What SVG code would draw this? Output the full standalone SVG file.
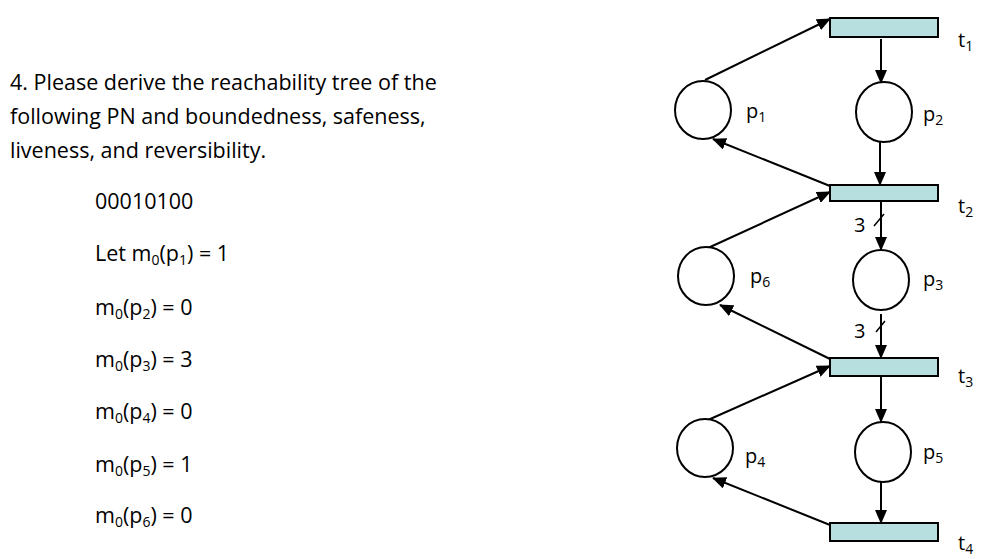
<svg xmlns="http://www.w3.org/2000/svg" width="996" height="559" viewBox="0 0 996 559">
<style>
text{font-family:"Open Sans","Liberation Sans",sans-serif;font-size:20px;fill:#000}
.q{font-size:21.5px}
.t{fill:#b8dfe0;stroke:#000;stroke-width:2}
.p{fill:#fff;stroke:#000;stroke-width:2}
.a{stroke:#000;stroke-width:2;fill:none;marker-end:url(#ah)}
</style>
<defs><marker id="ah" markerWidth="14" markerHeight="12" refX="13" refY="6" orient="auto" markerUnits="userSpaceOnUse"><path d="M0,0L14,6L0,12z" fill="#000"/></marker></defs>
<g id="question" class="q">
<text class="q" x="10" y="90">4. Please derive the reachability tree of the</text>
<text class="q" x="10" y="124">following PN and boundedness, safeness,</text>
<text class="q" x="10" y="158">liveness, and reversibility.</text>
<text class="q" x="95" y="209">00010100</text>
<text class="q" x="95" y="261">Let m<tspan font-size="14" dy="4">0</tspan><tspan dy="-4">(p</tspan><tspan font-size="14" dy="4">1</tspan><tspan dy="-4">) = 1</tspan></text>
<text class="q" x="95" y="315">m<tspan font-size="14" dy="4">0</tspan><tspan dy="-4">(p</tspan><tspan font-size="14" dy="4">2</tspan><tspan dy="-4">) = 0</tspan></text>
<text class="q" x="95" y="367">m<tspan font-size="14" dy="4">0</tspan><tspan dy="-4">(p</tspan><tspan font-size="14" dy="4">3</tspan><tspan dy="-4">) = 3</tspan></text>
<text class="q" x="95" y="419">m<tspan font-size="14" dy="4">0</tspan><tspan dy="-4">(p</tspan><tspan font-size="14" dy="4">4</tspan><tspan dy="-4">) = 0</tspan></text>
<text class="q" x="95" y="472">m<tspan font-size="14" dy="4">0</tspan><tspan dy="-4">(p</tspan><tspan font-size="14" dy="4">5</tspan><tspan dy="-4">) = 1</tspan></text>
<text class="q" x="95" y="523">m<tspan font-size="14" dy="4">0</tspan><tspan dy="-4">(p</tspan><tspan font-size="14" dy="4">6</tspan><tspan dy="-4">) = 0</tspan></text>
</g>
<g id="connectors">
<path class="a" d="M705,80L830,19"/>
<path class="a" d="M830,186L713,139"/>
<path class="a" d="M708,248L830,192"/>
<path class="a" d="M830,359L720,305"/>
<path class="a" d="M708,420L830,366"/>
<path class="a" d="M830,525L713,478"/>
<path class="a" d="M881,39L881,83"/>
<path class="a" d="M880,142L880,185"/>
<path class="a" d="M881,202L881,250"/>
<path class="a" d="M881,314L881,358"/>
<path class="a" d="M881,376L881,422"/>
<path class="a" d="M881,482L881,523"/>
<path d="M874,226L884,214M876,332L885,321" stroke="#000" stroke-width="1.5"/>
<text x="854" y="232">3</text>
<text x="854" y="338">3</text>
</g>
<g id="t1"><rect class="t" x="830" y="18" width="108" height="19"/><text x="958" y="47">t<tspan font-size="14" dy="4">1</tspan></text></g>
<g id="t2"><rect class="t" x="830" y="185" width="108" height="16"/><text x="958" y="213">t<tspan font-size="14" dy="4">2</tspan></text></g>
<g id="t3"><rect class="t" x="830" y="358" width="108" height="18"/><text x="958" y="383">t<tspan font-size="14" dy="4">3</tspan></text></g>
<g id="t4"><rect class="t" x="830" y="523" width="108" height="18"/><text x="958" y="550">t<tspan font-size="14" dy="4">4</tspan></text></g>
<g id="p1"><ellipse class="p" cx="703" cy="110" rx="28" ry="29"/><text x="746" y="118">p<tspan font-size="14" dy="4">1</tspan></text></g>
<g id="p2"><ellipse class="p" cx="884" cy="112" rx="28" ry="30"/><text x="923" y="121">p<tspan font-size="14" dy="4">2</tspan></text></g>
<g id="p6"><ellipse class="p" cx="706" cy="276" rx="28" ry="29"/><text x="750" y="283">p<tspan font-size="14" dy="4">6</tspan></text></g>
<g id="p3"><ellipse class="p" cx="881" cy="280" rx="28" ry="30"/><text x="923" y="286">p<tspan font-size="14" dy="4">3</tspan></text></g>
<g id="p4"><ellipse class="p" cx="705" cy="448" rx="28" ry="29"/><text x="745" y="463">p<tspan font-size="14" dy="4">4</tspan></text></g>
<g id="p5"><ellipse class="p" cx="883" cy="452" rx="28" ry="30"/><text x="923" y="459">p<tspan font-size="14" dy="4">5</tspan></text></g>
</svg>
